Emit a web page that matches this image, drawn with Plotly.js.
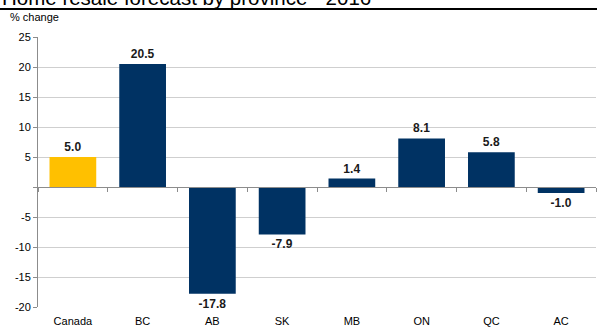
<!DOCTYPE html>
<html>
<head>
<meta charset="utf-8">
<script src="https://cdn.plot.ly/plotly-3.0.1.min.js"></script>
<style>
  html, body { margin: 0; padding: 0; background: #fff; }
  #chart { width: 597px; height: 327px; }
</style>
</head>
<body>
<div id="chart"></div>
<script>
// Home resale forecast, % change by province
const provinces = ["Canada", "BC", "AB", "SK", "MB", "ON", "QC", "AC"];
const changePct = [5.0, 20.5, -17.8, -7.9, 1.4, 8.1, 5.8, -1.0];
const barColors = ["#FFC000", "#003263", "#003263", "#003263", "#003263", "#003263", "#003263", "#003263"];
const yTickVals = [-20, -15, -10, -5, 0, 5, 10, 15, 20, 25];
const yTickText = ["-20", "-15", "-10", "-5", "", "5", "10", "15", "20", "25"];

const FONT = "Arial, 'Liberation Sans', sans-serif";

const trace = {
  type: "bar",
  x: provinces,
  y: changePct,
  marker: { color: barColors, line: { width: 0 } },
  width: 0.67,
  text: changePct.map(v => v.toFixed(1)),
  textposition: "outside",
  cliponaxis: false,
  textfont: { family: FONT, size: 12, color: "#1a1a1a", weight: "bold" },
  hoverinfo: "skip",
  xaxis: "x",
  yaxis: "y"
};

// invisible companion trace so the zero-line axis with boundary ticks is drawn
const axisTrace = {
  type: "bar",
  x: provinces,
  y: changePct.map(() => null),
  xaxis: "x2",
  yaxis: "y",
  showlegend: false,
  hoverinfo: "skip"
};

const layout = {
  width: 597,
  height: 327,
  margin: { l: 38, r: 1, t: 37, b: 20 },
  paper_bgcolor: "#fff",
  plot_bgcolor: "#fff",
  showlegend: false,
  font: { family: FONT, size: 11, color: "#000" },
  xaxis: {
    type: "category",
    showgrid: false,
    zeroline: false,
    showline: false,
    ticks: "",
    tickfont: { family: FONT, size: 11, color: "#000" },
    ticklabelstandoff: 6
  },
  xaxis2: {
    type: "category",
    overlaying: "x",
    anchor: "free",
    position: 20 / 45,
    showline: true,
    linecolor: "#8c8c8c",
    linewidth: 1,
    ticks: "outside",
    tickson: "boundaries",
    ticklen: 4,
    tickcolor: "#8c8c8c",
    showticklabels: false,
    showgrid: false,
    zeroline: false
  },
  yaxis: {
    range: [-20, 25],
    tickvals: yTickVals,
    ticktext: yTickText,
    showgrid: true,
    gridcolor: "#cfcfcf",
    gridwidth: 1,
    zeroline: false,
    showline: true,
    linecolor: "#8c8c8c",
    ticks: "outside",
    ticklen: 4,
    tickcolor: "#8c8c8c",
    tickfont: { family: FONT, size: 11, color: "#000" }
  },
  shapes: [
    {
      type: "line", xref: "paper", yref: "paper",
      x0: -38 / 558, x1: 1.01, y0: 1 + 28 / 270, y1: 1 + 28 / 270,
      line: { color: "#000", width: 2 }
    }
  ],
  annotations: [
    {
      text: "Home resale forecast by province - 2016",
      xref: "paper", yref: "paper",
      x: -38 / 558, y: 1 + 26 / 270,
      xanchor: "left", yanchor: "bottom",
      showarrow: false,
      font: { family: FONT, size: 20.5, color: "#000" }
    },
    {
      text: "% change",
      xref: "paper", yref: "paper",
      x: -30 / 558, y: 1 + 12 / 270,
      xanchor: "left", yanchor: "bottom",
      showarrow: false,
      font: { family: FONT, size: 11, color: "#000" }
    }
  ],
  bargap: 0.33
};

Plotly.newPlot("chart", [trace, axisTrace], layout, { staticPlot: true, displayModeBar: false });
</script>
</body>
</html>
